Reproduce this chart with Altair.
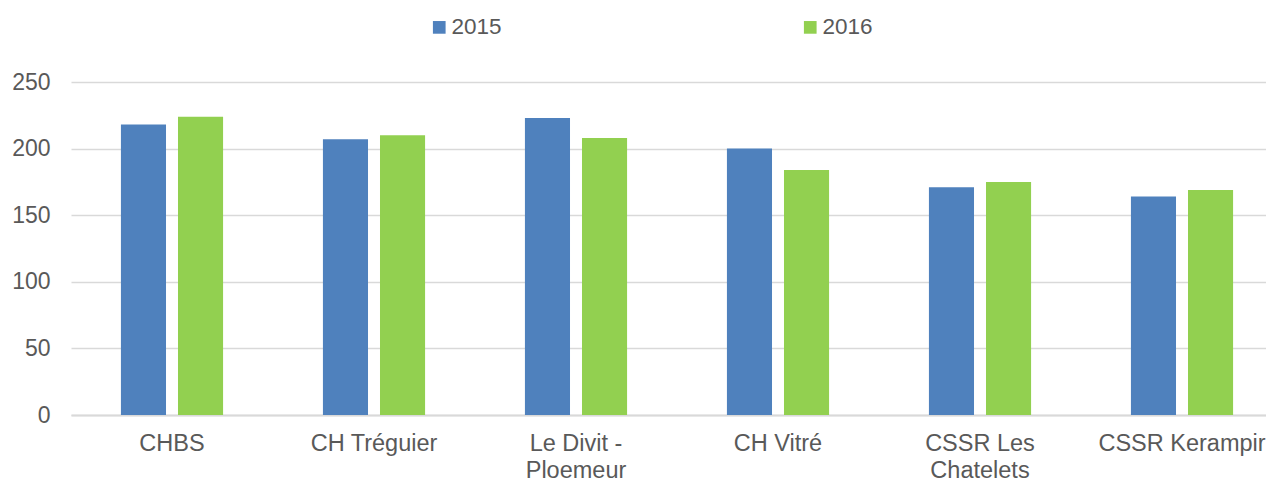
import altair as alt
import pandas as pd

categories = ["CHBS", "CH Tréguier", "Le Divit - Ploemeur", "CH Vitré", "CSSR Les Chatelets", "CSSR Kerampir"]
values_2015 = [218, 207, 223, 200, 171, 164]
values_2016 = [224, 210, 208, 184, 175, 169]
years = ["2015", "2016"]
colors = ["#4F81BD", "#92D050"]
y_ticks = [0, 50, 100, 150, 200, 250]

rows = []
for c, a, b in zip(categories, values_2015, values_2016):
    rows.append({"cat": c, "year": years[0], "value": a})
    rows.append({"cat": c, "year": years[1], "value": b})
df = pd.DataFrame(rows)

FONT = "Liberation Sans"
GREY = "#595959"

label_expr = (
    "datum.label == 'Le Divit - Ploemeur' ? ['Le Divit -', 'Ploemeur'] : "
    "datum.label == 'CSSR Les Chatelets' ? ['CSSR Les', 'Chatelets'] : datum.label"
)

chart = alt.Chart(df).mark_bar().encode(
    x=alt.X("cat:N", sort=categories, title=None,
            scale=alt.Scale(paddingInner=0.435, paddingOuter=0.1754, align=0.62),
            axis=alt.Axis(labelAngle=0, labelExpr=label_expr, labelFont=FONT, labelFontSize=23.5,
                          labelColor=GREY, labelPadding=16, labelLineHeight=27,
                          ticks=False, domainColor="#D9D9D9", domainWidth=2, grid=False,
                          labelLimit=400)),
    xOffset=alt.XOffset("year:N", scale=alt.Scale(paddingInner=0.21, paddingOuter=0.105)),
    y=alt.Y("value:Q", title=None,
            scale=alt.Scale(domain=[0, 250], nice=False),
            axis=alt.Axis(values=y_ticks, labelFont=FONT, labelFontSize=23, labelColor=GREY,
                          labelPadding=21, ticks=False, domain=False,
                          gridColor="#D9D9D9", gridWidth=1.3)),
    color=alt.Color("year:N", scale=alt.Scale(domain=years, range=colors), title=None,
                    legend=alt.Legend(orient="none", direction="horizontal",
                                      legendX=357, legendY=-66, padding=0,
                                      symbolType="square", symbolSize=161, symbolStrokeWidth=0,
                                      labelFont=FONT, labelFontSize=22.5, labelColor=GREY,
                                      labelOffset=1, columnPadding=297)),
).properties(
    width=1195, height=333,
    autosize=alt.AutoSizeParams(type="none"),
    padding={"left": 63, "top": 74, "right": 0, "bottom": 67},
).configure_view(stroke=None)

chart.save("out.html", embed_options={"renderer": "svg", "actions": False})
